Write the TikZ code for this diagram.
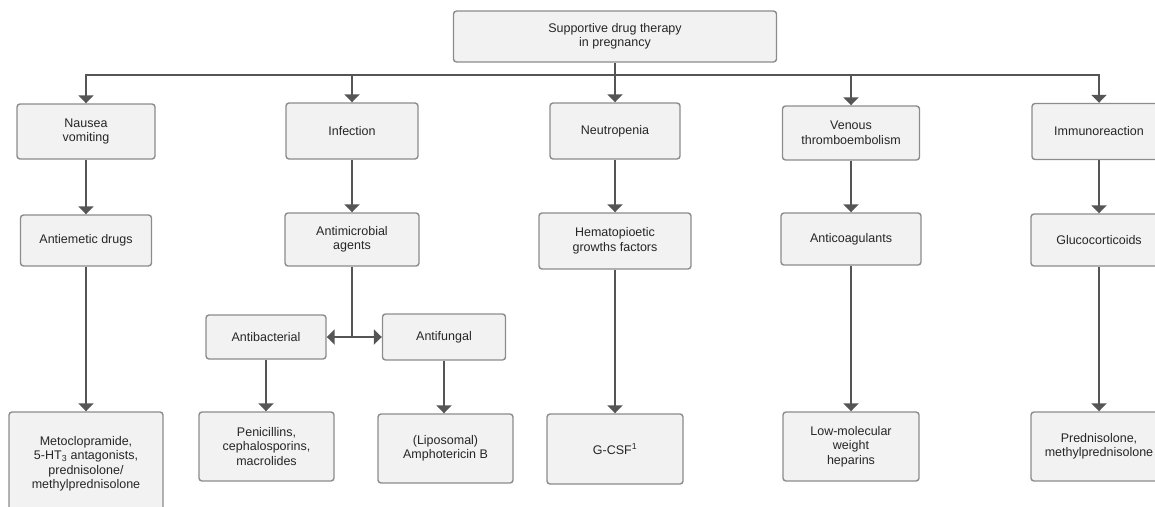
\documentclass[tikz,border=0pt]{standalone}
\usepackage{fontspec}
\setmainfont{Liberation Sans}
\usetikzlibrary{arrows.meta}

\definecolor{boxline}{HTML}{8C8C8C}
\definecolor{boxfill}{HTML}{F2F2F2}
\definecolor{wiregray}{HTML}{555555}
\definecolor{textgray}{HTML}{262626}

\tikzset{
  box/.style={draw=boxline, line width=1.4pt, fill=boxfill, rounded corners=3pt,
    align=center, text=textgray, inner sep=0pt,
    font=\fontsize{12.5}{14.5}\selectfont},
  wire/.style={draw=wiregray, line width=2pt},
  link/.style={wire, -{Triangle[width=15pt,length=8pt]}}
}

\begin{document}
\begin{tikzpicture}[x=1pt,y=-1pt]
\useasboundingbox (0,0) rectangle (1155,506);
\node[box, minimum width=323pt, minimum height=51pt] (top) at (615,36.5) {Supportive drug therapy\\in pregnancy};
\node[box, minimum width=138pt, minimum height=55pt] (nausea) at (86,131.5) {Nausea\\vomiting};
\node[box, minimum width=132pt, minimum height=56pt] (infection) at (352,131) {Infection};
\node[box, minimum width=130pt, minimum height=56pt] (neutropenia) at (615,131) {Neutropenia};
\node[box, minimum width=137pt, minimum height=54pt] (venous) at (851,133) {Venous\\thromboembolism};
\node[box, minimum width=134pt, minimum height=56pt] (immuno) at (1099,131.5) {Immunoreaction};

\node[box, minimum width=131pt, minimum height=51pt] (antiemetic) at (86,240.5) {Antiemetic drugs};
\node[box, minimum width=134pt, minimum height=53pt] (antimicrobial) at (352,239.5) {Antimicrobial\\agents};
\node[box, minimum width=152pt, minimum height=56pt] (hemato) at (615,241) {Hematopioetic\\growths factors};
\node[box, minimum width=140pt, minimum height=52pt] (anticoag) at (851,239) {Anticoagulants};
\node[box, minimum width=136pt, minimum height=52pt] (gluco) at (1099,240) {Glucocorticoids};

\node[box, minimum width=120pt, minimum height=44pt] (antibact) at (266,337) {Antibacterial};
\node[box, minimum width=123pt, minimum height=46pt] (antifungal) at (444,337) {Antifungal};

\node[box, minimum width=154pt, minimum height=104pt] (meto) at (86,464) {Metoclopramide,\\5-HT\textsubscript{3} antagonists,\\prednisolone/\\methylprednisolone};
\node[box, minimum width=135pt, minimum height=69pt] (penicillin) at (266.5,446.5) {Penicillins,\\cephalosporins,\\macrolides};
\node[box, minimum width=135pt, minimum height=69pt] (ampho) at (445.5,448.5) {(Liposomal)\\Amphotericin B};
\node[box, minimum width=136pt, minimum height=70pt] (gcsf) at (615,449) {G-CSF\textsuperscript{1}};
\node[box, minimum width=136pt, minimum height=69pt] (lmwh) at (851,446.5) {Low-molecular\\weight\\heparins};
\node[box, minimum width=136pt, minimum height=69pt] (predni) at (1099,446.5) {Prednisolone,\\methylprednisolone};

\coordinate (hub) at (615,75);
\coordinate (split) at (352,337);

\draw[wire] (top) -- (hub);
\draw[link] (hub) -| (nausea.north);
\draw[link] (hub) -| (infection.north);
\draw[link] (hub) -- (neutropenia.north);
\draw[link] (hub) -| (venous.north);
\draw[link] (hub) -| (immuno.north);

\draw[link] (nausea) -- (antiemetic);
\draw[link] (infection) -- (antimicrobial);
\draw[link] (neutropenia) -- (hemato);
\draw[link] (venous) -- (anticoag);
\draw[link] (immuno) -- (gluco);

\draw[wire] (antimicrobial) -- (split);
\draw[link] (split) -- (antibact.east);
\draw[link] (split) -- (antifungal.west);
\draw[link] (antibact) -- (antibact |- penicillin.north);
\draw[link] (antifungal) -- (antifungal |- ampho.north);

\draw[link] (antiemetic) -- (meto);
\draw[link] (hemato) -- (gcsf);
\draw[link] (anticoag) -- (lmwh);
\draw[link] (gluco) -- (predni);
\end{tikzpicture}
\end{document}
